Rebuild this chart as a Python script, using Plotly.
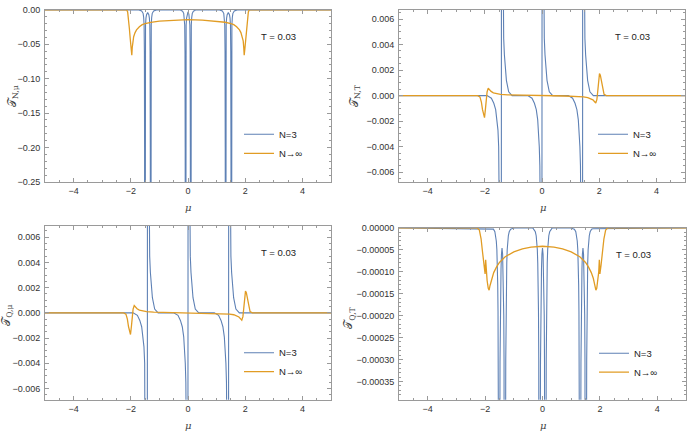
import plotly.graph_objects as go

# ---------------- data ----------------
# Panel 1: T_{N,mu}
mu_p1_n3 = [-5.0, -1.72, -1.62, -1.57, -1.55, -1.535, -1.525, -1.518, -1.51, -1.502, -1.495, -1.485, -1.47, -1.45,
            -1.41, -1.37, -1.35, -1.335, -1.325, -1.318, -1.31, -1.302, -1.295, -1.285, -1.27, -1.25, -1.2, -1.1,
            -0.28, -0.19, -0.15, -0.13, -0.115, -0.105, -0.098, -0.09, -0.082, -0.075, -0.065, -0.05, -0.03, 0.0,
            0.03, 0.05, 0.065, 0.075, 0.082, 0.09, 0.098, 0.105, 0.115, 0.13, 0.15, 0.19, 0.28,
            1.1, 1.2, 1.25, 1.27, 1.285, 1.295, 1.302, 1.31, 1.318, 1.325, 1.335, 1.35, 1.37, 1.41, 1.45, 1.47,
            1.485, 1.495, 1.502, 1.51, 1.518, 1.525, 1.535, 1.55, 1.57, 1.62, 1.72, 5.0]
TNmu_n3 = [0.0, 0.0, -0.0015, -0.005, -0.011, -0.022, -0.06, -0.2, -1.0, -0.2, -0.06, -0.022, -0.012, -0.007,
           -0.004, -0.007, -0.012, -0.022, -0.06, -0.2, -1.0, -0.2, -0.06, -0.022, -0.011, -0.005, -0.0015, 0.0,
           0.0, -0.002, -0.005, -0.011, -0.022, -0.06, -0.2, -1.0, -0.2, -0.06, -0.022, -0.012, -0.006, -0.003,
           -0.006, -0.012, -0.022, -0.06, -0.2, -1.0, -0.2, -0.06, -0.022, -0.011, -0.005, -0.002, 0.0,
           0.0, -0.0015, -0.005, -0.011, -0.022, -0.06, -0.2, -1.0, -0.2, -0.06, -0.022, -0.012, -0.007, -0.004,
           -0.007, -0.012, -0.022, -0.06, -0.2, -1.0, -0.2, -0.06, -0.022, -0.011, -0.005, -0.0015, 0.0, 0.0]

mu_p1_inf = [-5.0, -2.3, -2.14, -2.11, -2.08, -2.05, -2.02, -1.99, -1.965, -1.95, -1.93, -1.9, -1.85, -1.8, -1.7,
             -1.6, -1.5, -1.3, -1.0, -0.5, 0.0, 0.5, 1.0, 1.3, 1.5, 1.6, 1.7, 1.8, 1.85, 1.9, 1.93, 1.95, 1.965,
             1.99, 2.02, 2.05, 2.08, 2.11, 2.14, 2.3, 5.0]
TNmu_inf = [0.0, 0.0, 0.0, -0.003, -0.012, -0.027, -0.042, -0.056, -0.066, -0.055, -0.045, -0.039, -0.033, -0.029,
            -0.0245, -0.0215, -0.02, -0.018, -0.0163, -0.0148, -0.0142, -0.0148, -0.0163, -0.018, -0.02, -0.0215,
            -0.0245, -0.029, -0.033, -0.039, -0.045, -0.055, -0.066, -0.056, -0.042, -0.027, -0.012, -0.003, 0.0,
            0.0, 0.0]

# Panels 2 and 3: T_{N,T} and T_{Q,mu} (identical curves)
mu_p2_n3 = [-5.0, -1.92, -1.77, -1.685, -1.62, -1.57, -1.54, -1.515, -1.495, -1.475, -1.45, -1.43, -1.42, -1.41,
            -1.39, -1.362, -1.34, -1.315, -1.28, -1.245, -1.165, -1.045,
            -0.5, -0.35, -0.265, -0.2, -0.15, -0.12, -0.095, -0.075, -0.055, -0.03, -0.01, 0.0, 0.01, 0.03, 0.058,
            0.08, 0.105, 0.14, 0.175, 0.255, 0.375,
            0.92, 1.07, 1.155, 1.22, 1.27, 1.3, 1.325, 1.345, 1.365, 1.39, 1.41, 1.42, 1.43, 1.45, 1.478, 1.5,
            1.525, 1.56, 1.595, 1.675, 1.795, 5.0]
TNT_n3 = [0.0, 0.0, -0.0002, -0.0006, -0.0011, -0.0019, -0.0027, -0.004, -0.0055, -0.0075, -0.02, -0.06, 0.0,
          0.06, 0.02, 0.007, 0.0045, 0.0032, 0.002, 0.0012, 0.0003, 0.0,
          0.0, -0.0002, -0.0006, -0.0011, -0.0019, -0.0027, -0.004, -0.0055, -0.0075, -0.02, -0.06, 0.0, 0.06,
          0.02, 0.007, 0.0045, 0.0032, 0.002, 0.0012, 0.0003, 0.0,
          0.0, -0.0002, -0.0006, -0.0011, -0.0019, -0.0027, -0.004, -0.0055, -0.0075, -0.02, -0.06, 0.0, 0.06,
          0.02, 0.007, 0.0045, 0.0032, 0.002, 0.0012, 0.0003, 0.0, 0.0]

mu_p2_inf = [-5.0, -2.25, -2.17, -2.12, -2.08, -2.04, -2.01, -1.98, -1.95, -1.92, -1.88, -1.84, -1.78, -1.7, -1.6,
             -1.45, -1.2, -0.8, -0.4, 0.0, 0.4, 0.8, 1.2, 1.45, 1.6, 1.7, 1.78, 1.84, 1.88, 1.92, 1.95, 1.98, 2.01,
             2.04, 2.08, 2.12, 2.17, 2.25, 5.0]
TNT_inf = [0.0, 0.0, -0.0001, -0.0005, -0.0011, -0.0016, -0.00172, -0.0011, -0.0003, 0.0003, 0.00058, 0.00048,
           0.00033, 0.00022, 0.00015, 0.0001, 0.00006, 0.00003, 0.00001, 0.0, -0.00001, -0.00003, -0.00006,
           -0.0001, -0.00015, -0.00022, -0.00033, -0.00048, -0.00058, -0.0003, 0.0003, 0.0011, 0.00172, 0.0016,
           0.0011, 0.0005, 0.0001, 0.0, 0.0]

# Panel 4: T_{Q,T}  (values in units of 1e-5)
mu_p4_n3 = [-5.0, -1.75, -1.71, -1.66, -1.63, -1.61, -1.59, -1.575, -1.56, -1.55, -1.54, -1.53, -1.52, -1.51, -1.5,
            -1.49, -1.48, -1.47, -1.46, -1.445, -1.43, -1.41, -1.39, -1.375, -1.36, -1.35, -1.34, -1.33, -1.32,
            -1.31, -1.3, -1.29, -1.28, -1.27, -1.26, -1.245, -1.23, -1.21, -1.19, -1.16, -1.11, -1.07, -0.95,
            -0.34, -0.3, -0.25, -0.22, -0.2, -0.18, -0.165, -0.15, -0.14, -0.13, -0.12, -0.11, -0.1, -0.09, -0.08,
            -0.07, -0.06, -0.05, -0.035, -0.02, 0.0, 0.02, 0.035, 0.05, 0.06, 0.07, 0.08, 0.09, 0.1, 0.11, 0.12,
            0.13, 0.14, 0.15, 0.165, 0.18, 0.2, 0.22, 0.25, 0.3, 0.34,
            0.95, 1.07, 1.11, 1.16, 1.19, 1.21, 1.23, 1.245, 1.26, 1.27, 1.28, 1.29, 1.3, 1.31, 1.32, 1.33, 1.34,
            1.35, 1.36, 1.375, 1.39, 1.41, 1.43, 1.445, 1.46, 1.47, 1.48, 1.49, 1.5, 1.51, 1.52, 1.53, 1.54, 1.55,
            1.56, 1.575, 1.59, 1.61, 1.63, 1.66, 1.71, 1.75, 5.0]
TQT_n3_e5 = [0.0, -0.2, -0.3, -0.9, -1.8, -3.0, -5.0, -8.0, -13, -19, -30, -60, -150, -400, -150, -60.5, -30.6,
             -19.8, -13.9, -9.3, -6.0, -4.6, -6.0, -9.3, -13.9, -19.8, -30.6, -60.5, -150, -400, -150, -60, -30,
             -19, -13, -8.0, -5.0, -3.0, -1.8, -0.9, -0.3, -0.2, 0.0,
             0.0, -0.3, -0.9, -1.8, -3.0, -5.0, -8.0, -13, -19, -30, -60, -150, -400, -150, -60.5, -30.6, -19.8,
             -13.9, -9.3, -6.0, -4.6, -6.0, -9.3, -13.9, -19.8, -30.6, -60.5, -150, -400, -150, -60, -30, -19, -13,
             -8.0, -5.0, -3.0, -1.8, -0.9, -0.3, 0.0,
             0.0, -0.2, -0.3, -0.9, -1.8, -3.0, -5.0, -8.0, -13, -19, -30, -60, -150, -400, -150, -60.5, -30.6,
             -19.8, -13.9, -9.3, -6.0, -4.6, -6.0, -9.3, -13.9, -19.8, -30.6, -60.5, -150, -400, -150, -60, -30,
             -19, -13, -8.0, -5.0, -3.0, -1.8, -0.9, -0.3, -0.2, 0.0]

mu_p4_inf = [-5.0, -2.28, -2.2, -2.14, -2.09, -2.04, -2.0, -1.98, -1.96, -1.93, -1.89, -1.86, -1.83, -1.77, -1.7,
             -1.6, -1.5, -1.3, -1.0, -0.7, -0.4, 0.0, 0.4, 0.7, 1.0, 1.3, 1.5, 1.6, 1.7, 1.77, 1.83, 1.86, 1.89,
             1.93, 1.96, 1.98, 2.0, 2.04, 2.09, 2.14, 2.2, 2.28, 5.0]
TQT_inf_e5 = [0.0, 0.0, -0.5, -2.5, -5.5, -8.5, -10.5, -7.3, -10.0, -12.0, -13.8, -14.2, -13.2, -11.5, -10.2, -8.9,
              -7.9, -6.6, -5.5, -4.8, -4.4, -4.2, -4.4, -4.8, -5.5, -6.6, -7.9, -8.9, -10.2, -11.5, -13.2, -14.2,
              -13.8, -12.0, -10.0, -7.3, -10.5, -8.5, -5.5, -2.5, -0.5, 0.0, 0.0]
TQT_n3 = [v * 1e-5 for v in TQT_n3_e5]
TQT_inf = [v * 1e-5 for v in TQT_inf_e5]

series_names = ["N=3", "N→∞"]
temp_label = "T = 0.03"
x_ticks = [-4, -2, 0, 2, 4]
y_labels = ["𝒯<sub>N,μ</sub>", "𝒯<sub>N,T</sub>", "𝒯<sub>Q,μ</sub>", "𝒯<sub>Q,T</sub>"]

# ---------------- figure ----------------
W, H = 690, 441
BLUE = "#5E81B5"
ORANGE = "#E19C24"
FONT = "Liberation Sans"


def fx(p):
    return p / W


def fy(p):
    return 1 - p / H


panels = [
    dict(x=(45, 331), y=(5, 181), yr=[-0.25, 0.0], ydt=0.05, ymin=0.01, fmt=".2f", leg=142,
         d=(mu_p1_n3, TNmu_n3, mu_p1_inf, TNmu_inf)),
    dict(x=(399, 685), y=(5, 181), yr=[-0.00676, 0.00672], ydt=0.002, ymin=0.0005, fmt=".3f", leg=142,
         d=(mu_p2_n3, TNT_n3, mu_p2_inf, TNT_inf)),
    dict(x=(45, 331), y=(226, 404), yr=[-0.0069, 0.0069], ydt=0.002, ymin=0.0005, fmt=".3f", leg=365.5,
         d=(mu_p2_n3, TNT_n3, mu_p2_inf, TNT_inf)),
    dict(x=(399, 686), y=(228, 404), yr=[-0.000392, 0.0], ydt=0.00005, ymin=0.00001, fmt=".5f", leg=366,
         d=(mu_p4_n3, TQT_n3, mu_p4_inf, TQT_inf)),
]

fig = go.Figure()
layout = dict(width=W, height=H, margin=dict(l=0, r=0, t=0, b=0), paper_bgcolor="white",
              plot_bgcolor="white", font=dict(family=FONT, size=9, color="#333"), annotations=[])

frame = "#9a9a9a"
for i, p in enumerate(panels):
    k = "" if i == 0 else str(i + 1)
    leg = "legend" if i == 0 else "legend" + str(i + 1)
    mx, my, ox, oy = p["d"]
    fig.add_trace(go.Scatter(x=mx, y=my, mode="lines", name=series_names[0], line=dict(color=BLUE, width=1.1),
                             xaxis="x" + k, yaxis="y" + k, legend=leg))
    fig.add_trace(go.Scatter(x=ox, y=oy, mode="lines", name=series_names[1], line=dict(color=ORANGE, width=1.3),
                             xaxis="x" + k, yaxis="y" + k, legend=leg))
    layout["xaxis" + k] = dict(domain=[fx(p["x"][0]), fx(p["x"][1])], anchor="y" + k, range=[-5, 5],
                               tickvals=x_ticks, ticks="inside", ticklen=4, tickcolor=frame, showline=True,
                               linecolor=frame, linewidth=1, mirror="ticks", showgrid=False, zeroline=False,
                               minor=dict(dtick=0.5, tick0=0, ticks="inside", ticklen=2, tickcolor=frame),
                               tickfont=dict(family=FONT, size=9, color="#333"))
    layout["yaxis" + k] = dict(domain=[fy(p["y"][1]), fy(p["y"][0])], anchor="x" + k, range=p["yr"],
                               dtick=p["ydt"], tick0=0, tickformat=p["fmt"], ticks="inside", ticklen=4,
                               tickcolor=frame, showline=True, linecolor=frame, linewidth=1, mirror="ticks",
                               showgrid=False, zeroline=False, ticklabelstandoff=2,
                               minor=dict(dtick=p["ymin"], tick0=0, ticks="inside", ticklen=2, tickcolor=frame),
                               tickfont=dict(family=FONT, size=9, color="#333"))
    x0, x1 = p["x"]
    y0, y1 = p["y"]
    # legend inside the panel, lower right
    layout[leg] = dict(x=fx(x1 - 92), y=fy(p["leg"]), xanchor="left", yanchor="middle",
                       bgcolor="rgba(0,0,0,0)", font=dict(family=FONT, size=9.5, color="#222"),
                       tracegroupgap=0, itemwidth=30)
    # T = 0.03
    layout["annotations"].append(dict(text=temp_label, x=fx(x1 - 53), y=fy(y0 + 27), xref="paper", yref="paper",
                                      showarrow=False, xanchor="center", yanchor="middle",
                                      font=dict(family=FONT, size=9.5, color="#222")))
    # x axis title
    layout["annotations"].append(dict(text="<i>μ</i>", x=fx((x0 + x1) / 2 + 1), y=fy(y1 + 26), xref="paper",
                                      yref="paper", showarrow=False, xanchor="center", yanchor="middle",
                                      font=dict(family="DejaVu Serif", size=10, color="#444")))

ylab_pos = [(13, 93), (355, 92), (7, 317), (349, 320)]
for (xp, yp), t in zip(ylab_pos, y_labels):
    layout["annotations"].append(dict(text=t, x=fx(xp), y=fy(yp), xref="paper", yref="paper", showarrow=False,
                                      textangle=-90, xanchor="center", yanchor="middle",
                                      font=dict(family="DejaVu Serif", size=11, color="#444")))

fig.update_layout(**layout)
fig.write_html("out.html")
